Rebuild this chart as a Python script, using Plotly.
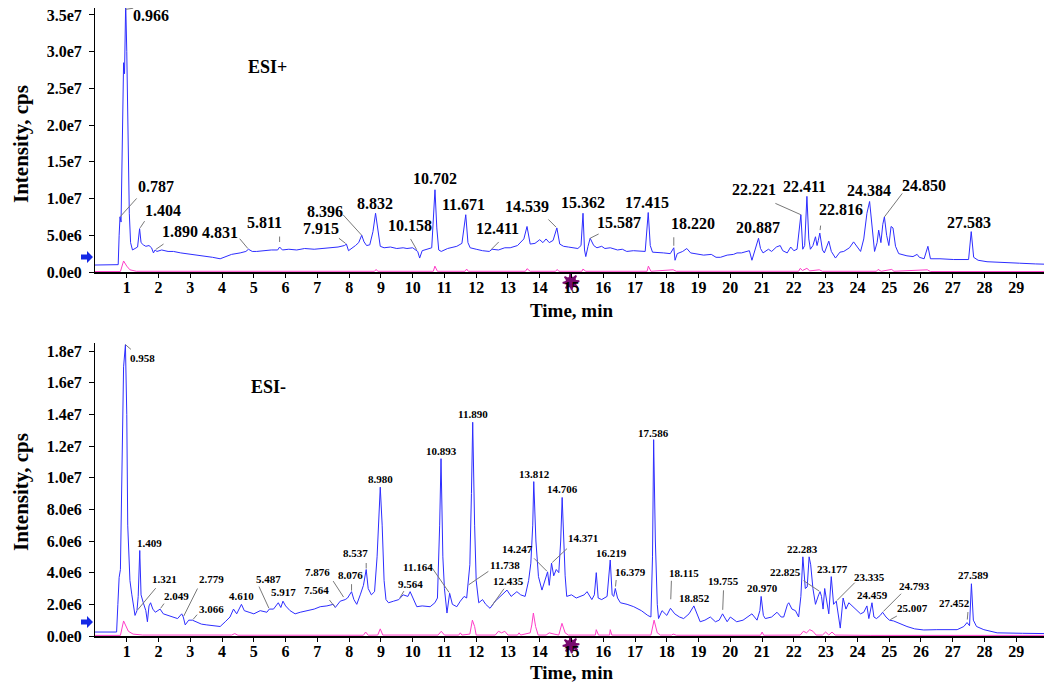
import numpy as np
import plotly.graph_objects as go

# ---- ESI+ (top): time in min, intensity in 1e6 cps ----
pos_time = [0.00, 0.70, 0.73, 0.76, 0.787, 0.82, 0.86, 0.90, 0.93, 0.966, 1.00, 1.04, 1.08, 1.12, 1.18, 1.26,
            1.34, 1.404, 1.45, 1.52, 1.60, 1.70, 1.78, 1.84, 1.890, 1.95, 2.1, 2.3, 2.47, 2.7, 2.9, 3.1,
            3.31, 3.5, 3.7, 3.94, 4.1, 4.3, 4.57, 4.75, 4.831, 4.95, 5.09, 5.3, 5.55, 5.75, 5.811, 5.9,
            6.1, 6.35, 6.6, 6.9, 7.19, 7.4, 7.65, 7.85, 7.915, 7.98, 8.05, 8.2, 8.30, 8.396, 8.47, 8.55,
            8.65, 8.75, 8.832, 8.9, 8.98, 9.1, 9.3, 9.5, 9.7, 9.82, 10.0, 10.158, 10.22, 10.3, 10.45, 10.6,
            10.702, 10.76, 10.82, 10.9, 11.1, 11.39, 11.55, 11.671, 11.74, 11.81, 12.0, 12.2, 12.411, 12.5,
            12.7, 12.9, 13.07, 13.3, 13.5, 13.6, 13.7, 13.85, 14.0, 14.1, 14.2, 14.3, 14.42, 14.539, 14.63,
            14.75, 14.9, 15.05, 15.2, 15.3, 15.362, 15.41, 15.45, 15.52, 15.587, 15.7, 15.8, 15.95, 16.05,
            16.22, 16.45, 16.6, 16.74, 16.95, 17.15, 17.32, 17.415, 17.48, 17.55, 17.7, 17.9, 18.11, 18.220,
            18.26, 18.33, 18.5, 18.63, 18.75, 18.9, 19.16, 19.4, 19.55, 19.69, 19.9, 20.1, 20.21, 20.35,
            20.5, 20.6, 20.68, 20.75, 20.887, 20.95, 21.03, 21.2, 21.3, 21.45, 21.57, 21.65, 21.79, 21.9,
            22.0, 22.1, 22.221, 22.28, 22.34, 22.411, 22.47, 22.52, 22.6, 22.68, 22.73, 22.77, 22.816, 22.9,
            22.96, 23.1, 23.18, 23.31, 23.45, 23.57, 23.75, 23.88, 24.0, 24.1, 24.2, 24.30, 24.384, 24.46,
            24.54, 24.62, 24.67, 24.74, 24.80, 24.850, 24.92, 24.99, 25.06, 25.12, 25.2, 25.3, 25.45, 25.56,
            25.75, 25.88, 25.95, 26.1, 26.22, 26.3, 26.6, 27.03, 27.5, 27.583, 27.66, 27.8, 28.08, 28.6,
            29.1, 29.6, 30.0]
pos_tic = [0.95, 0.95, 1.0, 5.0, 7.5, 6.8, 18.0, 28.5, 27.0, 36.7, 30.0, 17.0, 8.0, 4.0, 3.0, 3.2,
           3.4, 5.9, 4.0, 3.7, 3.5, 3.6, 3.3, 2.6, 3.0, 2.8, 3.0, 2.8, 2.8, 2.6, 2.5, 2.4,
           2.2, 2.2, 2.0, 1.8, 2.1, 2.4, 2.6, 2.8, 3.1, 2.8, 2.8, 2.9, 3.0, 3.0, 3.4, 3.0,
           3.1, 3.0, 3.2, 3.1, 3.2, 3.3, 3.4, 3.6, 3.8, 2.9, 3.1, 3.6, 4.0, 5.0, 4.1, 3.6,
           3.7, 5.5, 8.0, 5.8, 3.5, 3.3, 3.4, 3.2, 3.3, 3.2, 3.3, 2.8, 1.9, 2.9, 3.1, 3.3,
           11.2, 6.0, 3.0, 2.8, 3.2, 3.5, 3.9, 7.8, 4.0, 3.3, 3.1, 2.9, 2.8, 3.1,
           3.0, 3.3, 3.3, 3.6, 4.5, 6.2, 3.8, 3.9, 4.4, 4.0, 4.5, 4.0, 4.3, 6.0, 3.8,
           3.5, 3.4, 3.3, 3.2, 3.6, 8.0, 3.0, 2.1, 3.5, 4.6, 3.6, 3.3, 3.5, 3.2,
           3.3, 3.0, 3.1, 2.8, 2.9, 2.8, 2.8, 8.1, 3.6, 2.7, 2.7, 2.6, 2.5, 3.3,
           1.6, 2.5, 2.8, 3.2, 2.6, 2.5, 2.3, 2.4, 2.0, 2.0, 2.3, 2.4, 2.6, 2.6,
           2.8, 2.9, 1.6, 2.7, 4.6, 3.2, 2.6, 3.1, 2.8, 3.4, 3.6, 2.9, 2.6, 3.4,
           2.9, 3.1, 7.8, 3.1, 3.6, 10.3, 4.5, 3.1, 3.6, 4.8, 3.6, 4.3, 5.3, 3.0,
           2.6, 4.2, 2.8, 1.9, 2.7, 2.8, 3.3, 4.1, 3.3, 2.8, 4.5, 8.0, 9.6, 6.0,
           2.8, 4.0, 5.7, 4.0, 6.5, 7.5, 5.0, 3.6, 6.2, 6.0, 3.5, 2.5, 2.3, 2.2,
           2.1, 2.4, 2.0, 1.8, 3.5, 1.8, 1.8, 1.7, 1.7, 5.5, 2.0, 1.6, 1.4, 1.25,
           1.2, 1.1, 1.05]
pos_blank_time = [0, 0.8, 0.9, 1.0, 1.1, 1.3, 8.8, 8.85, 8.9, 10.65, 10.7, 10.78, 11.65, 11.7, 11.75,
                  13.55, 13.6, 13.7, 14.5, 14.55, 14.6, 15.33, 15.36, 15.45, 17.38, 17.42, 17.5, 18.2, 18.3,
                  22.15, 22.2, 22.27, 22.41, 22.5, 22.8, 22.9, 24.6, 24.65, 24.75, 25.08, 25.15, 26.2, 26.3, 30]
pos_blank = [0.06, 0.06, 1.5, 0.8, 0.3, 0.1, 0.1, 0.35, 0.1, 0.1, 0.8, 0.1, 0.1, 0.4, 0.1,
             0.1, 0.45, 0.1, 0.1, 0.35, 0.1, 0.1, 0.4, 0.1, 0.1, 0.8, 0.1, 0.3, 0.1,
             0.1, 0.5, 0.2, 0.5, 0.15, 0.3, 0.1, 0.1, 0.35, 0.1, 0.35, 0.1, 0.3, 0.06, 0.06]
pos_labels = ["0.966", "0.787", "1.404", "1.890", "4.831", "5.811", "7.915", "8.396", "8.832", "10.158",
              "10.702", "11.671", "12.411", "14.539", "15.362", "15.587", "17.415", "18.220", "20.887",
              "22.221", "22.411", "22.816", "24.384", "24.850", "27.583"]

# ---- ESI- (bottom) ----
neg_time = [0.00, 0.68, 0.72, 0.76, 0.80, 0.85, 0.90, 0.958, 1.00, 1.03, 1.06, 1.10, 1.16, 1.22, 1.26, 1.321,
            1.36, 1.409, 1.45, 1.52, 1.60, 1.65, 1.70, 1.75, 1.82, 1.90, 2.049, 2.15, 2.3, 2.47, 2.6, 2.73,
            2.779, 2.84, 2.95, 3.066, 3.2, 3.35, 3.52, 3.7, 3.94, 4.1, 4.25, 4.36, 4.46, 4.610, 4.7, 4.85,
            5.0, 5.2, 5.41, 5.487, 5.62, 5.77, 5.85, 5.917, 6.0, 6.14, 6.3, 6.46, 6.7, 6.9, 7.09, 7.3, 7.5,
            7.564, 7.72, 7.876, 7.95, 8.076, 8.15, 8.24, 8.35, 8.45, 8.537, 8.6, 8.7, 8.8, 8.88, 8.94, 8.980,
            9.04, 9.1, 9.16, 9.24, 9.4, 9.564, 9.7, 9.85, 9.92, 10.05, 10.13, 10.3, 10.55, 10.7, 10.78, 10.85,
            10.893, 10.95, 11.0, 11.08, 11.164, 11.25, 11.39, 11.5, 11.62, 11.70, 11.738, 11.80, 11.85,
            11.890, 11.95, 12.0, 12.08, 12.2, 12.3, 12.435, 12.6, 12.75, 12.9, 12.97, 13.1, 13.28, 13.4,
            13.54, 13.65, 13.72, 13.78, 13.812, 13.88, 13.96, 14.07, 14.15, 14.247, 14.3, 14.371, 14.44,
            14.52, 14.6, 14.66, 14.706, 14.76, 14.8, 14.85, 15.0, 15.15, 15.28, 15.4, 15.49, 15.64, 15.72,
            15.78, 15.84, 15.95, 16.12, 16.219, 16.28, 16.33, 16.379, 16.45, 16.54, 16.75, 16.96, 17.2,
            17.4, 17.50, 17.55, 17.586, 17.64, 17.70, 17.74, 17.85, 18.0, 18.115, 18.25, 18.4, 18.53, 18.7,
            18.852, 18.95, 19.05, 19.2, 19.37, 19.53, 19.65, 19.755, 19.9, 20.0, 20.2, 20.4, 20.55, 20.68,
            20.84, 20.93, 20.970, 21.04, 21.1, 21.3, 21.47, 21.6, 21.68, 21.8, 21.84, 21.94, 22.05, 22.15,
            22.22, 22.283, 22.36, 22.42, 22.48, 22.53, 22.6, 22.68, 22.78, 22.825, 22.87, 22.92, 22.97,
            23.05, 23.1, 23.177, 23.25, 23.335, 23.42, 23.46, 23.55, 23.64, 23.73, 23.9, 24.1, 24.2, 24.30,
            24.36, 24.459, 24.52, 24.6, 24.72, 24.793, 24.9, 25.007, 25.14, 25.35, 25.56, 25.8, 26.09,
            26.5, 27.14, 27.35, 27.452, 27.53, 27.589, 27.65, 27.75, 27.98, 28.4, 29.2, 30.0]
neg_tic = [0.25, 0.25, 2.0, 3.7, 4.2, 10.0, 17.0, 18.4, 14.0, 7.0, 5.0, 3.5, 2.6, 1.8, 1.3, 1.6,
           2.5, 5.4, 2.6, 2.1, 1.6, 0.9, 1.9, 2.1, 1.7, 1.5, 1.7, 1.4, 1.3, 1.2, 1.1, 1.4,
           1.2, 0.7, 1.0, 1.0, 0.9, 0.75, 0.7, 0.65, 0.6, 0.9, 1.2, 1.7, 1.4, 2.0, 1.6, 1.5,
           1.4, 1.6, 1.5, 1.7, 1.7, 2.1, 1.8, 2.2, 1.9, 1.6, 1.4, 1.5, 1.6, 1.7, 1.85, 1.9, 2.0,
           1.8, 2.2, 2.3, 2.4, 2.8, 2.3, 2.0, 2.6, 3.2, 4.2, 3.0, 2.6, 2.8, 5.0, 8.2, 9.4,
           7.0, 3.5, 2.3, 2.1, 2.2, 2.3, 2.6, 2.5, 2.8, 2.2, 1.85, 1.9, 1.85, 2.1, 2.4, 7.0,
           11.2, 5.0, 3.0, 1.45, 2.7, 2.0, 1.85, 2.2, 2.5, 2.4, 3.2, 4.5, 9.0,
           13.5, 7.0, 3.5, 2.1, 2.3, 2.0, 1.75, 2.2, 2.5, 2.8, 2.9, 2.5, 2.8, 2.6,
           2.5, 3.5, 4.6, 7.0, 9.75, 6.0, 3.75, 2.9, 3.4, 4.05, 3.2, 4.6, 3.8,
           4.2, 4.0, 6.0, 8.75, 6.0, 3.8, 2.5, 2.6, 2.4, 2.5, 2.6, 2.8, 2.3, 2.6,
           4.0, 2.4, 2.3, 2.5, 4.8, 2.6, 2.5, 3.0, 2.4, 2.1, 2.0, 1.85, 1.6,
           1.3, 1.2, 5.0, 12.4, 6.0, 2.0, 1.1, 1.6, 1.3, 1.75, 1.4, 1.2, 1.1, 1.4,
           1.9, 1.4, 0.9, 1.0, 1.2, 0.9, 1.0, 1.4, 0.9, 1.2, 0.9, 1.0, 1.2, 1.4,
           1.0, 1.6, 2.5, 1.3, 1.1, 1.2, 1.5, 1.2, 1.2, 2.0, 2.1, 1.7, 1.6, 1.2,
           2.5, 5.0, 3.0, 3.1, 5.0, 4.5, 3.0, 2.0, 2.6, 2.8, 2.5, 1.7, 3.0,
           1.8, 1.4, 3.75, 2.0, 2.2, 1.2, 0.5, 2.4, 1.7, 2.1, 1.8, 1.4, 1.5, 1.9,
           1.1, 2.1, 1.2, 1.1, 1.3, 1.5, 1.2, 1.0, 0.95, 0.75, 0.6, 0.45, 0.38,
           0.4, 0.4, 0.6, 0.85, 0.65, 3.3, 1.0, 0.6, 0.4, 0.2, 0.17, 0.15]
neg_blank_time = [0, 0.8, 0.9, 0.97, 1.05, 1.2, 1.5, 4.3, 4.4, 4.5, 8.45, 8.52, 8.6, 8.9, 8.98, 9.06,
                  10.8, 10.9, 11.0, 11.45, 11.5, 11.55, 11.8, 11.88, 11.95, 12.0, 12.6, 12.7, 12.8, 12.9,
                  13.0, 13.3, 13.35, 13.4, 13.7, 13.75, 13.8, 13.87, 13.95, 14.2, 14.3, 14.45, 14.6, 14.7,
                  14.8, 14.9, 15.75, 15.78, 15.85, 16.2, 16.22, 16.27, 17.5, 17.6, 17.7, 17.8, 18.15, 18.2,
                  18.3, 20.95, 21.0, 21.05, 22.2, 22.3, 22.4, 22.5, 22.6, 22.7, 22.9, 23.0, 23.1, 23.2,
                  23.3, 24.4, 30]
neg_blank = [0.04, 0.04, 0.95, 0.6, 0.3, 0.12, 0.06, 0.06, 0.15, 0.05, 0.05, 0.25, 0.05, 0.06, 0.45, 0.06,
             0.06, 0.3, 0.06, 0.06, 0.2, 0.06, 0.12, 1.0, 0.6, 0.06, 0.06, 0.3, 0.2, 0.3,
             0.06, 0.06, 0.2, 0.06, 0.2, 0.7, 1.45, 0.6, 0.06, 0.06, 0.2, 0.12, 0.06, 0.8,
             0.2, 0.06, 0.06, 0.4, 0.06, 0.06, 0.4, 0.06, 0.06, 1.0, 0.2, 0.06, 0.06, 0.12,
             0.05, 0.05, 0.25, 0.05, 0.06, 0.3, 0.2, 0.4, 0.3, 0.06, 0.06, 0.25, 0.06, 0.25,
             0.06, 0.04, 0.04]
neg_labels = ["0.958", "1.409", "1.321", "2.049", "2.779", "3.066", "4.610", "5.487", "5.917", "7.564",
              "7.876", "8.076", "8.537", "8.980", "9.564", "10.893", "11.164", "11.890", "11.738", "12.435",
              "13.812", "14.247", "14.371", "14.706", "16.219", "16.379", "17.586", "18.115", "18.852",
              "19.755", "20.970", "22.283", "22.825", "23.177", "23.335", "24.459", "24.793", "25.007",
              "27.452", "27.589"]

x_ticks = list(range(1, 30))
pos_yticks = [0, 5e6, 1e7, 1.5e7, 2e7, 2.5e7, 3e7, 3.5e7]
pos_yticktext = ["0.0e0", "5.0e6", "1.0e7", "1.5e7", "2.0e7", "2.5e7", "3.0e7", "3.5e7"]
neg_yticks = [0, 2e6, 4e6, 6e6, 8e6, 1e7, 1.2e7, 1.4e7, 1.6e7, 1.8e7]
neg_yticktext = ["0.0e0", "2.0e6", "4.0e6", "6.0e6", "8.0e6", "1.0e7", "1.2e7", "1.4e7", "1.6e7", "1.8e7"]

# label placement in pixels relative to the peak: (label dx, label dy, line dx, line dy, line gap)
pos_place = [(25, 13, 9, 5, 0), (36, -30, 18, -20, 0), (23, -18, 6, -9, 1), (25, -18, 10, -7, 1),
             (-28, -17, -10, -12, 1), (-15, -25, 0, -12, 5), (-25, -16, -9, -7, 1), (-37, -24, -20, -22, 0),
             (-1, -10, 0, 0, 0), (-8, -26, -8, -14, 2), (0, -11, 0, 0, 0), (-2, -10, 0, 0, 0),
             (8, -23, 11, -11, 3), (-30, -21, -10, -10, 1), (0, -11, 0, 0, 0), (29, -16, 10, -5, 0),
             (-1, -10, 0, 0, 0), (19, -24, 0, -12, 2), (-1, -11, 0, 0, 0), (-47, -25, -27, -12, 0),
             (-2, -10, 0, 0, 0), (21, -24, 1, -9, 3), (-1, -11, 0, 0, 0), (40, -31, 19, -25, 0),
             (-2, -9, 0, 0, 0)]
neg_place = [(17, 13, 7, 6, 0), (10, -8, 0, 0, 0), (28, -32, 20, -24, 1), (16, -13, 5, -7, 1),
             (28, -38, 15, -30, 1), (19, -11, 6, -7, 1), (0, -8, 0, 0, 0), (-1, -30, -11, -24, 1),
             (1, -9, 0, 0, 0), (-19, -18, -7, -9, 1), (-28, -28, -13, -20, 3), (-1, -17, 0, -9, 1),
             (-11, -17, 0, -8, 1), (0, -8, 0, 0, 0), (12, -16, 6, -10, 2), (0, -8, 0, 0, 0),
             (-32, -26, -18, -26, 1), (0, -8, 0, 0, 0), (37, -20, 22, -15, 1), (18, -27, 15, -21, 3),
             (1, -8, 0, 0, 0), (-30, -23, -15, -15, 1), (31, -25, 17, -16, 1), (0, -8, 0, 0, 0),
             (1, -7, 0, 0, 0), (15, -17, 1, -10, 2), (0, -7, 0, 0, 0), (14, -35, 1, -29, 9),
             (1, -8, 0, 0, 0), (1, -33, 1, -25, 4), (1, -8, 0, 0, 0), (0, -8, 0, 0, 0),
             (-35, -20, -18, -12, 1), (1, -8, 0, 0, 0), (33, -24, 20, -20, 1), (1, -8, 0, 0, 0),
             (32, -26, 20, -20, 1), (23, -12, 9, -5, 1), (-13, -20, 1, -12, 3), (2, -9, 0, 0, 0)]

SERIF = "Liberation Serif, Times New Roman, serif"
BLUE = "rgb(45,45,255)"
PINK = "rgb(255,60,200)"
LEADER = "rgb(120,120,120)"
PURPLE = "rgb(120,10,110)"

POS_YMAX = 3.595e7
NEG_YMAX = 1.8505e7

# the page adds an 8 px body margin, so the figure covers the window from 8 px in
PLOT_L, PLOT_W, PLOT_B, PLOT_H = 95.0, 953.0, 636.0, 628.0


def px_x(p):
    return (p - PLOT_L) / PLOT_W


def px_y(p):
    return (PLOT_B - p) / PLOT_H


fig = go.Figure()
panels = [
    ("x", "y", pos_time, pos_tic, pos_blank_time, pos_blank),
    ("x2", "y2", neg_time, neg_tic, neg_blank_time, neg_blank),
]
for xa, ya, t, v, bt, bv in panels:
    fig.add_trace(go.Scatter(x=bt, y=np.array(bv) * 1e6, xaxis=xa, yaxis=ya, mode="lines",
                             line=dict(color=PINK, width=1), hoverinfo="skip"))
    fig.add_trace(go.Scatter(x=t, y=np.array(v) * 1e6, xaxis=xa, yaxis=ya, mode="lines",
                             line=dict(color=BLUE, width=1), hoverinfo="skip"))

annotations = []
for xa, ya, t, v, labels, place, size, ymax, ppu in [
        ("x", "y", pos_time, pos_tic, pos_labels, pos_place, 16, POS_YMAX, 257.0 / 3.5e7),
        ("x2", "y2", neg_time, neg_tic, neg_labels, neg_place, 11, NEG_YMAX, 285.0 / 1.8e7)]:
    for lab, (sx, sy, lx, ly, gap) in zip(labels, place):
        px = float(lab)
        py = float(np.interp(px, t, v)) * 1e6
        over = 0.0
        if py > ymax * 0.995:  # keep the anchor inside the axis range
            over = (py - ymax * 0.995) * ppu
            py = ymax * 0.995
        annotations.append(dict(x=px, y=py, xref=xa, yref=ya, text=lab, showarrow=False,
                                xshift=sx, yshift=-sy + over,
                                font=dict(family=SERIF, size=size, color="black", weight="bold")))
        if lx or ly:
            annotations.append(dict(x=px, y=py, xref=xa, yref=ya, text="", showarrow=True,
                                    arrowhead=0, arrowwidth=1, arrowcolor=LEADER,
                                    ax=lx, ay=ly - over, standoff=gap))

for txt, cx, cy in [("ESI+", 267, 67), ("ESI-", 268, 387)]:
    annotations.append(dict(x=px_x(cx), y=px_y(cy), xref="paper", yref="paper", text=txt, showarrow=False,
                            xanchor="center", yanchor="middle",
                            font=dict(family=SERIF, size=18, color="black", weight="bold")))
for cy in [144, 492]:
    annotations.append(dict(x=px_x(21), y=px_y(cy), xref="paper", yref="paper", text="Intensity, cps",
                            textangle=-90, showarrow=False, xanchor="center", yanchor="middle",
                            font=dict(family=SERIF, size=21, color="black", weight="bold")))
for cy in [310, 672]:
    annotations.append(dict(x=0.5, y=px_y(cy), xref="paper", yref="paper", text="Time, min",
                            showarrow=False, xanchor="center", yanchor="middle",
                            font=dict(family=SERIF, size=19, color="black", weight="bold")))

# decorative markers: blue block arrows on the intensity axes, purple blob on the 15 min tick
ang = np.linspace(0, 2 * np.pi, 33)[:-1]
rad = np.where(np.arange(32) % 4 < 2, 8.5, 5.5)
blob = "M " + " L ".join(f"{r * np.cos(a):.2f},{r * np.sin(a):.2f}" for r, a in zip(rad, ang)) + " Z"
arrow = "M -12,-2.5 L -6,-2.5 L -6,-6 L 0,0 L -6,6 L -6,2.5 L -12,2.5 Z"
shapes = []
for cy in [282, 645]:
    shapes.append(dict(type="path", path=blob, xref="paper", yref="paper", xsizemode="pixel",
                       ysizemode="pixel", xanchor=px_x(571), yanchor=px_y(cy), layer="below",
                       fillcolor=PURPLE, line=dict(width=0)))
for cy in [257, 622]:
    shapes.append(dict(type="path", path=arrow, xref="paper", yref="paper", xsizemode="pixel",
                       ysizemode="pixel", xanchor=px_x(93), yanchor=px_y(cy), layer="above",
                       fillcolor="rgb(20,40,230)", line=dict(width=0)))

tickfont = dict(family=SERIF, size=16, color="black", weight="bold")
xcommon = dict(range=[0, 30], tickvals=x_ticks, ticks="outside", ticklen=4, tickcolor="black",
               showline=True, linecolor="black", linewidth=2, showgrid=False, zeroline=False,
               tickfont=tickfont, ticklabelstandoff=-4)
ycommon = dict(ticks="outside", ticklen=5, tickcolor="black", showline=True, linecolor="black",
               linewidth=1, showgrid=False, zeroline=False, tickfont=tickfont, ticklabeloverflow="allow",
               ticklabelstandoff=4)

fig.update_layout(
    width=1044, height=676,
    margin=dict(l=87, r=4, t=0, b=48),
    paper_bgcolor="white", plot_bgcolor="rgba(0,0,0,0)",
    showlegend=False,
    xaxis=dict(domain=[0, 1], anchor="y", **xcommon),
    yaxis=dict(domain=[px_y(272), 1.0], anchor="x", range=[0, POS_YMAX],
               tickvals=pos_yticks, ticktext=pos_yticktext, **ycommon),
    xaxis2=dict(domain=[0, 1], anchor="y2", **xcommon),
    yaxis2=dict(domain=[0, px_y(343)], anchor="x2", range=[0, NEG_YMAX],
                tickvals=neg_yticks, ticktext=neg_yticktext, **ycommon),
    annotations=annotations,
    shapes=shapes,
)

fig.write_html("out.html")
